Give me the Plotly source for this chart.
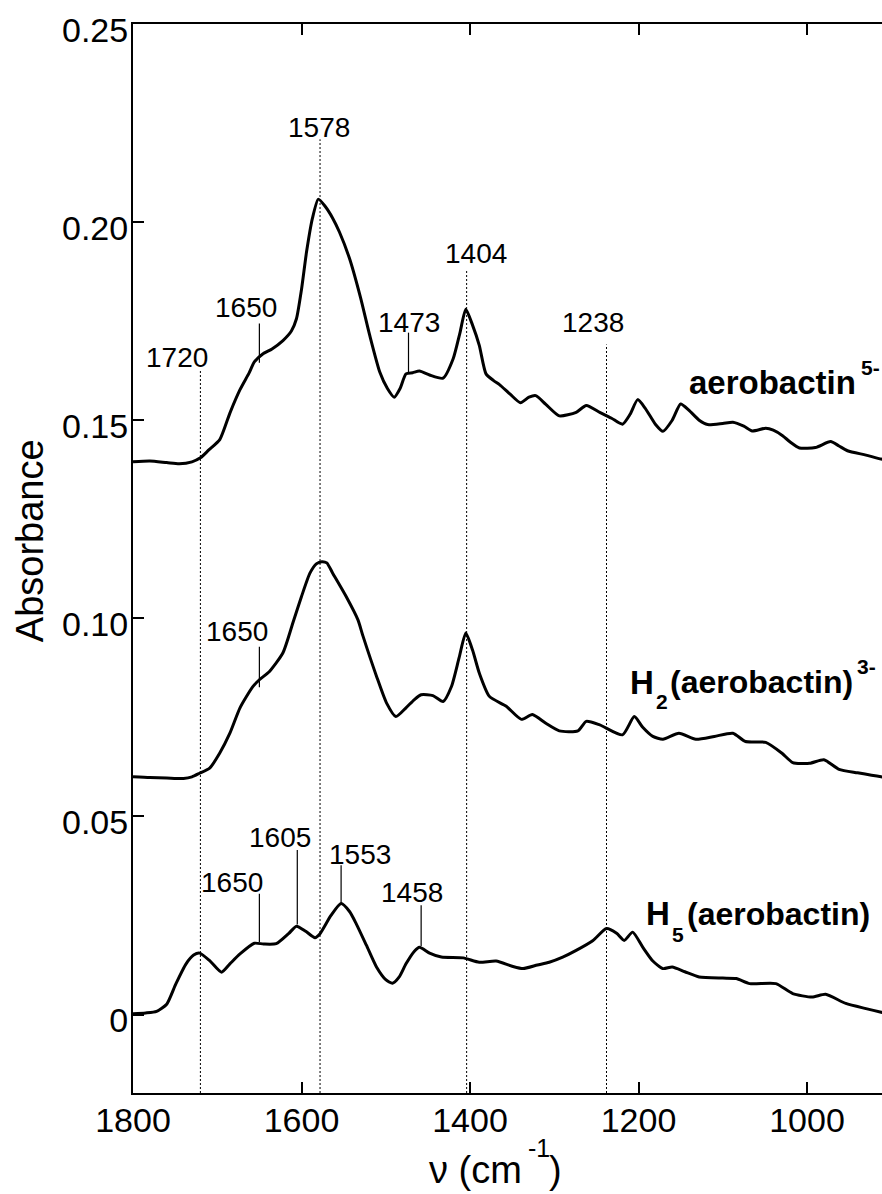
import plotly.graph_objects as go

# ---------------- data ----------------
wn_aero5 = [1800, 1780, 1760, 1745, 1730, 1720, 1710, 1697, 1685, 1673, 1662, 1656, 1646, 1635,
            1622, 1612, 1606, 1600, 1594, 1587, 1580, 1572, 1563, 1555, 1543, 1530, 1519, 1507,
            1498, 1490, 1483, 1476, 1468, 1460, 1448, 1432, 1420, 1412, 1405, 1397, 1389, 1381,
            1372, 1365, 1352, 1340, 1330, 1322, 1310, 1294, 1274, 1262, 1246, 1232, 1219, 1210,
            1201, 1192, 1180, 1171, 1160, 1150, 1140, 1128, 1118, 1100, 1088, 1075, 1065, 1049,
            1040, 1029, 1020, 1009, 990, 972, 962, 952, 930, 912, 900]
abs_aero5 = [0.1395, 0.1397, 0.1393, 0.1390, 0.1395, 0.1405, 0.1425, 0.1451, 0.1518, 0.1577, 0.1620,
             0.1647, 0.1667, 0.1680, 0.1701, 0.1725, 0.1756, 0.1830, 0.1925, 0.2010, 0.2058, 0.2040,
             0.2010, 0.1975, 0.1908, 0.1810, 0.1714, 0.1621, 0.1580, 0.1558, 0.1580, 0.1617, 0.1620,
             0.1624, 0.1614, 0.1606, 0.1655, 0.1720, 0.1780, 0.1740, 0.1689, 0.1617, 0.1600, 0.1590,
             0.1565, 0.1544, 0.1558, 0.1562, 0.1540, 0.1511, 0.1520, 0.1537, 0.1520, 0.1505, 0.1490,
             0.1515, 0.1552, 0.1530, 0.1490, 0.1472, 0.1500, 0.1541, 0.1525, 0.1500, 0.1489, 0.1492,
             0.1495, 0.1485, 0.1473, 0.1480, 0.1475, 0.1461, 0.1445, 0.1430, 0.1431, 0.1446, 0.1435,
             0.1423, 0.1412, 0.1402, 0.1398]

wn_h2 = [1800, 1780, 1760, 1740, 1730, 1721, 1709, 1697, 1685, 1673, 1658, 1650, 1638, 1622, 1610,
         1600, 1590, 1582, 1576, 1570, 1563, 1547, 1533, 1527, 1511, 1499, 1488, 1476, 1466, 1458,
         1444, 1432, 1422, 1413, 1405, 1397, 1389, 1377, 1357, 1339, 1326, 1310, 1294, 1272, 1262,
         1246, 1219, 1205, 1195, 1183, 1171, 1152, 1132, 1110, 1088, 1073, 1049, 1030, 1017, 997,
         980, 962, 940, 912, 900]
abs_h2 = [0.0600, 0.0598, 0.0597, 0.0596, 0.0600, 0.0609, 0.0622, 0.0660, 0.0710, 0.0774, 0.0827,
          0.0845, 0.0866, 0.0913, 0.0990, 0.1055, 0.1114, 0.1138, 0.1143, 0.1140, 0.1114, 0.1055,
          0.0996, 0.0955, 0.0854, 0.0786, 0.0752, 0.0774, 0.0795, 0.0807, 0.0805, 0.0790, 0.0828,
          0.0900, 0.0963, 0.0920, 0.0862, 0.0803, 0.0778, 0.0745, 0.0757, 0.0735, 0.0716, 0.0716,
          0.0740, 0.0731, 0.0706, 0.0752, 0.0725, 0.0702, 0.0695, 0.0710, 0.0695, 0.0702, 0.0710,
          0.0689, 0.0687, 0.0660, 0.0636, 0.0634, 0.0643, 0.0619, 0.0610, 0.0600, 0.0597]

wn_h5 = [1800, 1785, 1772, 1760, 1749, 1737, 1728, 1721, 1709, 1695, 1685, 1673, 1656, 1645, 1630,
         1615, 1606, 1595, 1584, 1578, 1565, 1553, 1543, 1535, 1523, 1511, 1500, 1492, 1484, 1476,
         1466, 1460, 1448, 1434, 1408, 1389, 1369, 1350, 1337, 1320, 1306, 1290, 1274, 1254, 1238,
         1226, 1217, 1207, 1195, 1183, 1171, 1160, 1145, 1128, 1100, 1084, 1068, 1037, 1017, 994,
         978, 954, 930, 912, 900]
abs_h5 = [0.0002, 0.0004, 0.0008, 0.0026, 0.0078, 0.0128, 0.0150, 0.0155, 0.0136, 0.0107, 0.0128,
          0.0153, 0.0180, 0.0178, 0.0179, 0.0205, 0.0223, 0.0210, 0.0194, 0.0204, 0.0250, 0.0280,
          0.0260, 0.0229, 0.0175, 0.0120, 0.0088, 0.0079, 0.0095, 0.0128, 0.0160, 0.0170, 0.0155,
          0.0145, 0.0143, 0.0132, 0.0135, 0.0122, 0.0116, 0.0125, 0.0132, 0.0145, 0.0162, 0.0187,
          0.0217, 0.0205, 0.0187, 0.0208, 0.0170, 0.0135, 0.0116, 0.0120, 0.0108, 0.0095, 0.0092,
          0.0091, 0.0078, 0.0078, 0.0053, 0.0044, 0.0051, 0.0028, 0.0015, 0.0006, 0.0000]

# dotted reference lines (band positions) and their upper ends
dotted_wn = [1720, 1578, 1404, 1238]
dotted_top = [0.1628, 0.2209, 0.1881, 0.1691]
dotted_text = ["1720", "1578", "1404", "1238"]
dotted_label_x = [1748, 1579, 1393, 1254]
dotted_label_y = [0.1658, 0.2240, 0.1921, 0.1747]

# short solid marker lines
mark_wn = [1650, 1473, 1650, 1650, 1605, 1553, 1458]
mark_y0 = [0.1645, 0.1620, 0.0826, 0.0183, 0.0227, 0.0280, 0.0173]
mark_y1 = [0.1744, 0.1721, 0.0928, 0.0305, 0.0415, 0.0377, 0.0276]
mark_text = ["1650", "1473", "1650", "1650", "1605", "1553", "1458"]
mark_label_x = [1666, 1472, 1677, 1682, 1626, 1531, 1469]
mark_label_y = [0.1785, 0.1747, 0.0966, 0.0334, 0.0448, 0.0403, 0.0309]

x_ticks = [1800, 1600, 1400, 1200, 1000]
y_ticks = [0, 0.05, 0.10, 0.15, 0.20, 0.25]
y_ticktext = ["0", "0.05", "0.10", "0.15", "0.20", "0.25"]

# ---------------- figure ----------------
FONT = "Liberation Sans, Arial, Helvetica, sans-serif"
L, T, W, H = 133, 24, 749, 1069   # plot area in pixels
FIG_W, FIG_H = 882, 1194

fig = go.Figure()
for wn, ab in [(wn_aero5, abs_aero5), (wn_h2, abs_h2), (wn_h5, abs_h5)]:
    fig.add_trace(go.Scatter(x=wn, y=ab, mode="lines",
                             line=dict(color="black", width=3, shape="spline", smoothing=0.6),
                             hoverinfo="skip", showlegend=False))

Y_BOTTOM = -0.0198
shapes = []
for v, top in zip(dotted_wn, dotted_top):
    shapes.append(dict(type="line", xref="x", yref="y", x0=v, x1=v, y0=Y_BOTTOM, y1=top,
                       line=dict(color="black", width=1, dash="2px,2px"), layer="below"))
for v, a, b in zip(mark_wn, mark_y0, mark_y1):
    shapes.append(dict(type="line", xref="x", yref="y", x0=v, x1=v, y0=a, y1=b,
                       line=dict(color="black", width=1.2), layer="above"))

annotations = []
for t, x, y in zip(dotted_text + mark_text, dotted_label_x + mark_label_x,
                   dotted_label_y + mark_label_y):
    annotations.append(dict(text=t, x=x, y=y, xref="x", yref="y", showarrow=False,
                            xanchor="center", yanchor="middle",
                            font=dict(family=FONT, size=28, color="black")))

# series labels: (text, size, xshift, yshift) parts placed from one anchor
series_labels = [
    (1141.9, 0.1594, [("aerobactin", 33, 0, 0), ("5-", 21, 172, 15.2)]),
    (1212.0, 0.0839, [("H", 33, 0, 0), ("2", 21, 25.3, -19.8),
                      ("(aerobactin)", 32, 39.8, 0), ("3-", 21, 227, 15.2)]),
    (1193.5, 0.0254, [("H", 33, 0, 0), ("5", 21, 26.3, -20.5),
                      ("(aerobactin)", 32, 40.8, 0)]),
]
for x, y, parts in series_labels:
    for txt, size, dx, dy in parts:
        annotations.append(dict(text="<b>%s</b>" % txt, x=x, y=y, xref="x", yref="y",
                                showarrow=False, xanchor="left", yanchor="middle",
                                xshift=dx, yshift=dy,
                                font=dict(family=FONT, size=size, color="black")))


def pxx(px):
    return (px - L) / W


def pxy(py):
    return (T + H - py) / H


# axis titles
annotations.append(dict(text="Absorbance", x=pxx(29.5), y=pxy(540.7), xref="paper", yref="paper",
                        showarrow=False, textangle=-90, xanchor="center", yanchor="middle",
                        font=dict(family=FONT, size=38, color="black")))
for txt, size, px, py in [("ν (cm", 38, 427, 1169.8), ("-1", 25, 526, 1148.3), (")", 38, 546.5, 1169.8)]:
    annotations.append(dict(text=txt, x=pxx(px), y=pxy(py), xref="paper", yref="paper",
                            showarrow=False, xanchor="left", yanchor="middle",
                            font=dict(family=FONT, size=size, color="black")))

fig.update_layout(
    width=FIG_W, height=FIG_H,
    margin=dict(l=L, r=FIG_W - L - W, t=T, b=FIG_H - T - H, pad=0),
    paper_bgcolor="white", plot_bgcolor="white",
    showlegend=False,
    font=dict(family=FONT, color="black"),
    shapes=shapes, annotations=annotations,
)
fig.update_xaxes(range=[1800, 911], tickvals=x_ticks, ticks="inside", ticklen=11, tickwidth=1.5,
                 tickcolor="black", showline=True, linewidth=2, linecolor="black", mirror="ticks",
                 showgrid=False, zeroline=False, ticklabelstandoff=-4,
                 tickfont=dict(family=FONT, size=34, color="black"))
fig.update_yaxes(range=[Y_BOTTOM, 0.25], tickvals=y_ticks, ticktext=y_ticktext, ticks="inside",
                 ticklen=11, tickwidth=1.5, tickcolor="black", showline=True, linewidth=2,
                 linecolor="black", mirror=False, showgrid=False, zeroline=False,
                 ticklabelshift=6, ticklabelstandoff=-4,
                 tickfont=dict(family=FONT, size=34, color="black"))

fig.write_html("out.html")
